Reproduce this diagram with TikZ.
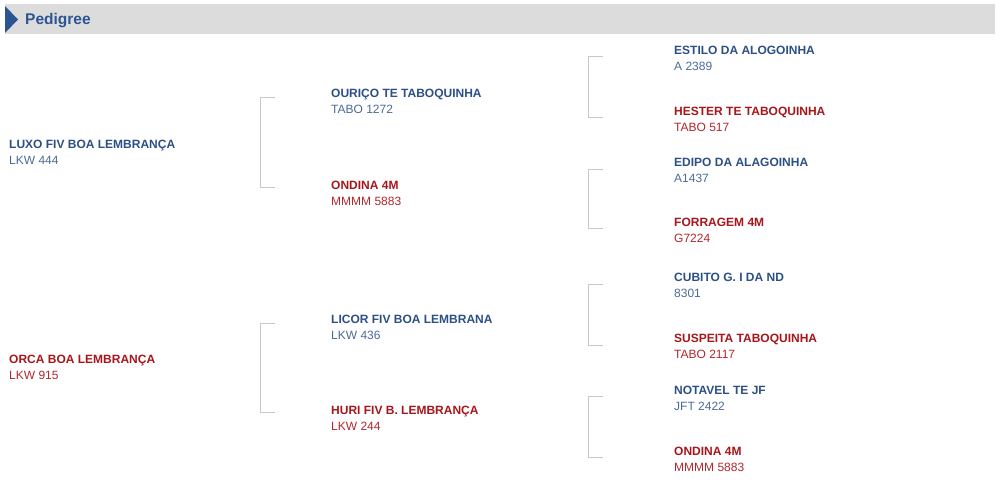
\documentclass[tikz,border=0pt]{standalone}
\usepackage{fontspec}
\setmainfont{Liberation Sans}
\usetikzlibrary{positioning}

\definecolor{headgray}{HTML}{DCDCDC}
\definecolor{headblue}{HTML}{2B5592}
\definecolor{sireblue}{HTML}{2C4F86}
\definecolor{codeblue}{HTML}{4B6A98}
\definecolor{damred}{HTML}{A8151A}
\definecolor{codered}{HTML}{B3262B}
\definecolor{linegray}{HTML}{C8C8C8}

\begin{document}
\begin{tikzpicture}[x=1pt,y=-1pt,font=\fontsize{12}{14}\selectfont,
  male/.style={inner sep=0pt,anchor=base west,text=sireblue,font=\fontsize{12}{14}\selectfont\bfseries},
  female/.style={inner sep=0pt,anchor=base west,text=damred,font=\fontsize{12}{14}\selectfont\bfseries},
  mcode/.style={inner sep=0pt,anchor=base west,text=codeblue},
  fcode/.style={inner sep=0pt,anchor=base west,text=codered},
  bracket/.style={draw=linegray,line width=1pt}]

\useasboundingbox (0,0) rectangle (1000,479);

% Header
\fill[headgray] (5,3.5) rectangle (995,33.5);
\fill[headblue] (5,6) -- (18,19.5) -- (5,33) -- cycle;
\node[inner sep=0pt,anchor=base west,text=headblue,font=\fontsize{15.5}{18}\selectfont\bfseries] (title) at (25,24) {Pedigree};

% Parents
\node[male] (luxo) at (9,148.3) {LUXO FIV BOA LEMBRANÇA};
\node[below=16pt of luxo.base west,mcode] (luxoc) {LKW 444};
\node[female] (orca) at (9,363.3) {ORCA BOA LEMBRANÇA};
\node[below=16pt of orca.base west,fcode] (orcac) {LKW 915};

% Grandparents
\node[male] (ourico) at (331,97) {OURIÇO TE TABOQUINHA};
\node[below=16pt of ourico.base west,mcode] (ouricoc) {TABO 1272};
\node[female] (ondina) at (331,189.3) {ONDINA 4M};
\node[below=16pt of ondina.base west,fcode] (ondinac) {MMMM 5883};
\node[male] (licor) at (331,323) {LICOR FIV BOA LEMBRANA};
\node[below=16pt of licor.base west,mcode] (licorc) {LKW 436};
\node[female] (huri) at (331,414) {HURI FIV B. LEMBRANÇA};
\node[below=16pt of huri.base west,fcode] (huric) {LKW 244};

% Great-grandparents
\node[male] (estilo) at (674,54) {ESTILO DA ALOGOINHA};
\node[below=16pt of estilo.base west,mcode] (estiloc) {A 2389};
\node[female] (hester) at (674,115) {HESTER TE TABOQUINHA};
\node[below=16pt of hester.base west,fcode] (hesterc) {TABO 517};
\node[male] (edipo) at (674,166.7) {EDIPO DA ALAGOINHA};
\node[below=16pt of edipo.base west,mcode] (edipoc) {A1437};
\node[female] (forragem) at (674,226) {FORRAGEM 4M};
\node[below=16pt of forragem.base west,fcode] (forragemc) {G7224};
\node[male] (cubito) at (674,281.7) {CUBITO G. I DA ND};
\node[below=16pt of cubito.base west,mcode] (cubitoc) {8301};
\node[female] (suspeita) at (674,342.7) {SUSPEITA TABOQUINHA};
\node[below=16pt of suspeita.base west,fcode] (suspeitac) {TABO 2117};
\node[male] (notavel) at (674,394) {NOTAVEL TE JF};
\node[below=16pt of notavel.base west,mcode] (notavelc) {JFT 2422};
\node[female] (ondinab) at (674,455) {ONDINA 4M};
\node[below=16pt of ondinab.base west,fcode] (ondinabc) {MMMM 5883};

% Brackets
\draw[bracket] ([xshift=-56pt]ourico.base west) -- ++(-14.5,0) |- ([xshift=-56pt,yshift=1.5pt]ondina.base west);
\draw[bracket] ([xshift=-56pt]licor.base west) -- ++(-14.5,0) |- ([xshift=-56pt,yshift=1.5pt]huri.base west);
\draw[bracket] ([xshift=-71pt,yshift=-2.5pt]estilo.base west) -- ++(-14.5,0) |- ([xshift=-71pt,yshift=-2.5pt]hester.base west);
\draw[bracket] ([xshift=-71pt,yshift=-2.5pt]edipo.base west) -- ++(-14.5,0) |- ([xshift=-71pt,yshift=-2.5pt]forragem.base west);
\draw[bracket] ([xshift=-71pt,yshift=-2.5pt]cubito.base west) -- ++(-14.5,0) |- ([xshift=-71pt,yshift=-2.5pt]suspeita.base west);
\draw[bracket] ([xshift=-71pt,yshift=-2.5pt]notavel.base west) -- ++(-14.5,0) |- ([xshift=-71pt,yshift=-2.5pt]ondinab.base west);

\end{tikzpicture}
\end{document}
